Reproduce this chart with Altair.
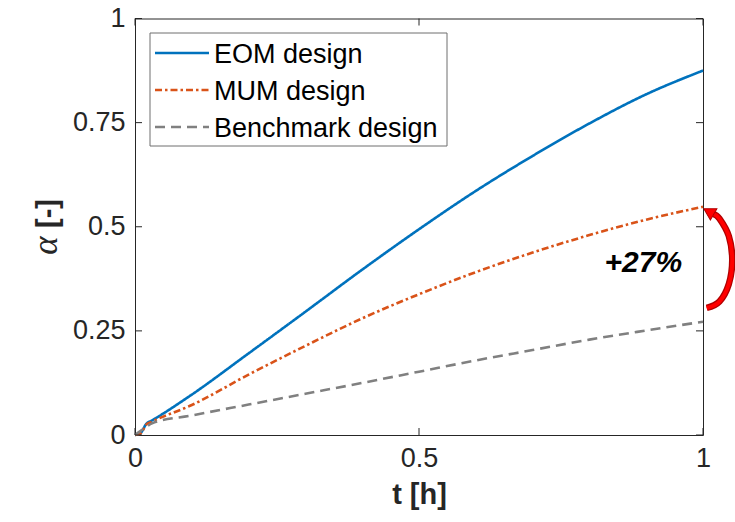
import altair as alt
import pandas as pd

# ---------------- data ----------------
designs = ["EOM design", "MUM design", "Benchmark design"]
colors = ["#0072BD", "#D95319", "#808080"]
dashes = [[1, 0], [7, 3, 2.5, 3], [10, 6]]

t_vals = [0, 0.01, 0.02, 0.03, 0.1, 0.2, 0.3, 0.4, 0.5, 0.6, 0.7, 0.8, 0.9, 1.0]
a_eom = [0, 0.005, 0.027, 0.035, 0.097, 0.196, 0.296, 0.397, 0.494, 0.586, 0.670, 0.748, 0.818, 0.875]
a_mum = [0, 0.004, 0.025, 0.032, 0.072, 0.145, 0.214, 0.280, 0.338, 0.391, 0.438, 0.480, 0.517, 0.548]
a_bench = [0, 0.010, 0.020, 0.028, 0.047, 0.073, 0.099, 0.125, 0.152, 0.179, 0.204, 0.229, 0.251, 0.272]

x_ticks = [0, 0.5, 1]
y_ticks = [0, 0.25, 0.5, 0.75, 1]

annot_text = ["+27%"]
annot_t = [0.895]
annot_a = [0.412]

# curved arrow annotation (data coordinates, drawn outside the right frame)
arc_t = [1.0065, 1.029, 1.0455, 1.0515, 1.0455, 1.029, 1.018]
arc_a = [0.305, 0.3204, 0.3625, 0.42, 0.4775, 0.5196, 0.531]
head_t = [1.013]
head_a = [0.534]

# ---------------- layout ----------------
W, H = 568, 416.5
TICK = 7
FRAME = "#262626"
FONT = "Liberation Sans"

# legend box geometry (pixels inside the plot area)
LEG_X0, LEG_X1, LEG_Y0, LEG_Y1 = 15, 312, 14.5, 127.5
LEG_ROW0, LEG_ROW_STEP = 34.5, 37
LEG_SYM_X0, LEG_SYM_X1, LEG_TXT_X = 20, 74, 79

rows = []
for name, vals in zip(designs, [a_eom, a_mum, a_bench]):
    for i, (t, a) in enumerate(zip(t_vals, vals)):
        rows.append({"design": name, "t": t, "alpha": a, "i": i})
df = pd.DataFrame(rows)

xs = alt.Scale(domain=[0, 1], nice=False, zero=False)
ys = alt.Scale(domain=[0, 1], nice=False, zero=False)
x_axis = alt.Axis(values=x_ticks, format=".2~f", labelFlush=False,
                  labelPadding=10, titlePadding=9, titleFontSize=29,
                  titleFontWeight="bold")
y_axis = alt.Axis(values=y_ticks, format=".2~f", labelFlush=False, labelPadding=10)


def X(field):
    return alt.X(field, scale=xs, axis=x_axis, title="t [h]")


def Y(field):
    return alt.Y(field, scale=ys, axis=y_axis, title=" ")


lines = alt.Chart(df).mark_line(strokeWidth=2.6, interpolate="monotone").encode(
    x=X("t:Q"),
    y=Y("alpha:Q"),
    color=alt.Color("design:N", scale=alt.Scale(domain=designs, range=colors), legend=None),
    strokeDash=alt.StrokeDash("design:N", scale=alt.Scale(domain=designs, range=dashes), legend=None),
    order="i:Q",
)

ydf = pd.DataFrame({"v": y_ticks})
xdf = pd.DataFrame({"v": x_ticks})
tick_l = alt.Chart(ydf).mark_rule(color=FRAME, strokeWidth=1).encode(
    y=Y("v:Q"), x=alt.value(0), x2=alt.value(TICK))
tick_r = alt.Chart(ydf).mark_rule(color=FRAME, strokeWidth=1).encode(
    y=Y("v:Q"), x=alt.value(W - TICK), x2=alt.value(W))
tick_b = alt.Chart(xdf).mark_rule(color=FRAME, strokeWidth=1).encode(
    x=X("v:Q"), y=alt.value(H), y2=alt.value(H - TICK))
tick_t = alt.Chart(xdf).mark_rule(color=FRAME, strokeWidth=1).encode(
    x=X("v:Q"), y=alt.value(0), y2=alt.value(TICK))

# y axis title: italic serif alpha + bold "[-]"
ysym = alt.Chart(pd.DataFrame({"s": ["α"]})).mark_text(
    font="Liberation Serif", fontStyle="italic", fontSize=35, angle=270,
    align="center", baseline="alphabetic", color=FRAME).encode(
    text="s:N", x=alt.value(-78), y=alt.value(227))
yunit = alt.Chart(pd.DataFrame({"s": ["[-]"]})).mark_text(
    font=FONT, fontWeight="bold", fontSize=29, angle=270,
    align="center", baseline="alphabetic", color=FRAME).encode(
    text="s:N", x=alt.value(-78), y=alt.value(195))

adf = pd.DataFrame({"txt": annot_text, "t": annot_t, "a": annot_a})
annot = alt.Chart(adf).mark_text(
    fontSize=30, fontWeight="bold", fontStyle="italic", color="black",
    align="center", baseline="middle").encode(
    x=X("t:Q"), y=Y("a:Q"), text="txt:N")

arcdf = pd.DataFrame({"t": arc_t, "a": arc_a, "i": list(range(len(arc_t)))})
arc_dark = alt.Chart(arcdf).mark_line(color="#B00000", strokeWidth=6.5,
                                      interpolate="cardinal", strokeCap="butt").encode(
    x=X("t:Q"), y=Y("a:Q"), order="i:Q")
arc_red = alt.Chart(arcdf).mark_line(color="#FF0000", strokeWidth=4,
                                     interpolate="cardinal", strokeCap="butt").encode(
    x=X("t:Q"), y=Y("a:Q"), order="i:Q")
hdf = pd.DataFrame({"t": head_t, "a": head_a})
head = alt.Chart(hdf).mark_point(shape="triangle", filled=True, size=170, angle=300,
                                 color="#FF0000", stroke="#B00000", strokeWidth=1,
                                 opacity=1).encode(
    x=X("t:Q"), y=Y("a:Q"))

# ---------------- legend (drawn as marks) ----------------
one = pd.DataFrame({"k": [0]})
legend_layers = [
    alt.Chart(one).mark_rect(fill="white", stroke="#6e6e6e", strokeWidth=1).encode(
        x=alt.value(LEG_X0), x2=alt.value(LEG_X1), y=alt.value(LEG_Y0), y2=alt.value(LEG_Y1))
]
for k, (name, col, dash) in enumerate(zip(designs, colors, dashes)):
    ry = LEG_ROW0 + k * LEG_ROW_STEP
    legend_layers.append(
        alt.Chart(one).mark_rule(color=col, strokeWidth=2.6, strokeDash=dash).encode(
            x=alt.value(LEG_SYM_X0), x2=alt.value(LEG_SYM_X1), y=alt.value(ry)))
    legend_layers.append(
        alt.Chart(pd.DataFrame({"s": [name]})).mark_text(
            font=FONT, fontSize=27, color="black", align="left", baseline="middle",
            dy=2).encode(
            text="s:N", x=alt.value(LEG_TXT_X), y=alt.value(ry)))

chart = alt.layer(
    lines, tick_l, tick_r, tick_b, tick_t, ysym, yunit, annot, arc_dark, arc_red, head,
    *legend_layers
).properties(
    width=W, height=H,
    padding={"left": 135, "top": 18.5, "right": 32, "bottom": 87},
    autosize=alt.AutoSizeParams(type="none"),
    background="white",
).configure(
    font=FONT,
).configure_view(
    stroke=FRAME, strokeWidth=1,
).configure_axis(
    grid=False, ticks=False, domain=False,
    labelFontSize=27, labelColor=FRAME, labelFont=FONT,
    titleColor=FRAME, titleFont=FONT,
)

chart.save("out.html", embed_options={"renderer": "svg", "actions": False})
